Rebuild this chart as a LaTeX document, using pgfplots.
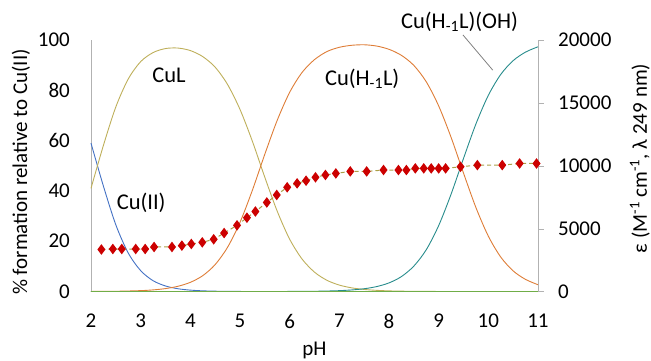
\documentclass[border=0pt]{standalone}
\usepackage{pgfplots}
\pgfplotsset{compat=1.18}
\usepackage{fontspec}
\setmainfont{Carlito}
\definecolor{cuII}{RGB}{68,114,196}
\definecolor{cuL}{RGB}{190,175,90}
\definecolor{cuHL}{RGB}{222,125,55}
\definecolor{cuOH}{RGB}{40,140,140}
\definecolor{base}{RGB}{112,173,71}
\definecolor{mk}{RGB}{204,0,0}
\definecolor{dl}{RGB}{170,160,70}
\begin{document}
\begin{tikzpicture}
\pgfplotsset{
  every axis/.append style={font=\fontsize{21}{25}\selectfont},
  /pgf/number format/assume math mode=true,
}
\begin{axis}[
  name=main, at={(0,0)}, anchor=south west, scale only axis,
  width=447pt, height=251.5pt,
  xmin=2, xmax=11, ymin=0, ymax=100,
  axis x line*=bottom, axis y line*=left,
  x axis line style={-, draw=gray!60},
  y axis line style={-, draw=gray!60},
  xtick={2,3,...,11}, ytick={0,20,...,100},
  major tick length=0pt,
  xticklabel style={anchor=center, inner sep=0pt, yshift=-29.5pt},
  yticklabel style={anchor=east, inner sep=0pt, xshift=-21pt},
  xlabel={pH},
  xlabel style={at={(axis description cs:0.5,-0.233)}, anchor=center},
  ylabel={\% formation relative to Cu(II)},
  ylabel style={at={(axis description cs:-0.157,0.475)}, anchor=center},
  clip=false,
]
\addplot[cuII, line width=0.9pt, smooth] coordinates {
(2,59.0)(2.25,41.9)(2.5,26.5)(2.75,15.3)(3,8.3)(3.25,4.3)(3.5,2.2)(3.75,1.1)(4,0.55)(4.25,0.27)(4.5,0.13)(4.75,0.06)(5,0.03)(5.5,0)(11,0)};
\addplot[cuL, line width=0.9pt, smooth] coordinates {
(2,41.0)(2.25,58.1)(2.5,73.4)(2.75,84.5)(3,91.4)(3.25,95.0)(3.5,96.6)(3.75,96.8)(4,95.8)(4.25,93.4)(4.5,89.2)(4.75,82.3)(5,72.4)(5.25,59.7)(5.5,45.4)(5.75,31.9)(6,20.8)(6.25,12.9)(6.5,7.7)(6.75,4.46)(7,2.55)(7.25,1.45)(7.5,0.82)(7.75,0.46)(8,0.25)(8.25,0.14)(8.5,0.07)(9,0.02)(11,0)};
\addplot[cuHL, line width=0.9pt, smooth] coordinates {
(2,0.02)(2.5,0.09)(3,0.35)(3.25,0.64)(3.5,1.16)(3.75,2.07)(4,3.64)(4.25,6.3)(4.5,10.7)(4.75,17.6)(5,27.5)(5.25,40.3)(5.5,54.6)(5.75,68.1)(6,79.2)(6.25,87.1)(6.5,92.2)(6.75,95.4)(7,97.1)(7.25,97.9)(7.5,98.1)(7.75,97.6)(8,96.3)(8.25,93.9)(8.5,89.9)(8.75,83.4)(9,73.8)(9.25,61.3)(9.5,47.1)(9.75,33.4)(10,22.0)(10.25,13.7)(10.5,8.2)(10.75,4.8)(11,2.7)};
\addplot[cuOH, line width=0.9pt, smooth] coordinates {
(2,0)(5.5,0)(6,0.03)(6.5,0.10)(6.75,0.19)(7,0.34)(7.25,0.62)(7.5,1.10)(7.75,1.95)(8,3.42)(8.25,5.93)(8.5,10.1)(8.75,16.6)(9,26.2)(9.25,38.7)(9.5,52.9)(9.75,66.6)(10,78.0)(10.25,86.3)(10.5,91.8)(10.75,95.2)(11,97.3)};
\addplot[base, line width=1.5pt] coordinates {(2,0)(11,0)};
\begin{scope}[font=\fontsize{22.5}{26}\selectfont]
\node at (axis cs:3.57,86) {CuL};
\node at (axis cs:3.01,35.2) {Cu(II)};
\node at (axis cs:7.46,84.5) {Cu(H\textsubscript{-1}L)};
\node at (axis cs:9.42,107.2) {Cu(H\textsubscript{-1}L)(OH)};
\end{scope}
\draw[gray, line width=0.8pt] (axis cs:9.49,102) -- (axis cs:10.09,88);
\end{axis}
\begin{axis}[
  at={(0,0)}, anchor=south west, scale only axis,
  width=447pt, height=251.5pt,
  xmin=2, xmax=11, ymin=0, ymax=20000,
  hide x axis,
  axis y line*=right,
  y axis line style={-, draw=gray!60},
  ytick={0,5000,...,20000},
  scaled y ticks=false,
  /pgf/number format/1000 sep={},
  major tick length=6pt, tick align=outside,
  ytick style={gray!60},
  yticklabel style={anchor=west, inner sep=0pt, xshift=14pt},
  every axis y label/.style={at={(axis description cs:1.228,0.529)}, anchor=center, rotate=90},
  ylabel={ε (M\textsuperscript{-1} cm\textsuperscript{-1}, λ 249 nm)},
  clip=false,
]
\addplot[dl, line width=1pt, dash pattern=on 4pt off 3pt, mark=diamond*, mark size=4.5pt,
  mark options={solid, fill=mk, draw=mk}] coordinates {
(2.21,3340)(2.44,3380)(2.62,3380)(2.90,3380)(3.09,3380)(3.27,3540)(3.63,3540)(3.83,3650)
(4.02,3780)(4.24,3910)(4.47,4150)(4.68,4650)(4.94,5260)(5.14,5870)(5.31,6360)(5.54,7080)
(5.74,7680)(5.95,8290)(6.15,8600)(6.33,8810)(6.52,9080)(6.72,9270)(6.93,9390)(7.22,9550)
(7.55,9550)(7.89,9660)(8.19,9660)(8.35,9660)(8.53,9790)(8.70,9790)(8.85,9790)(9.00,9790)
(9.14,9790)(9.44,9920)(9.78,10050)(10.28,10050)(10.63,10180)(10.97,10180)};
\end{axis}
\pgfresetboundingbox
\path[use as bounding box] (-91pt,-68.5pt) rectangle (560pt,291.5pt);
\end{tikzpicture}
\end{document}
